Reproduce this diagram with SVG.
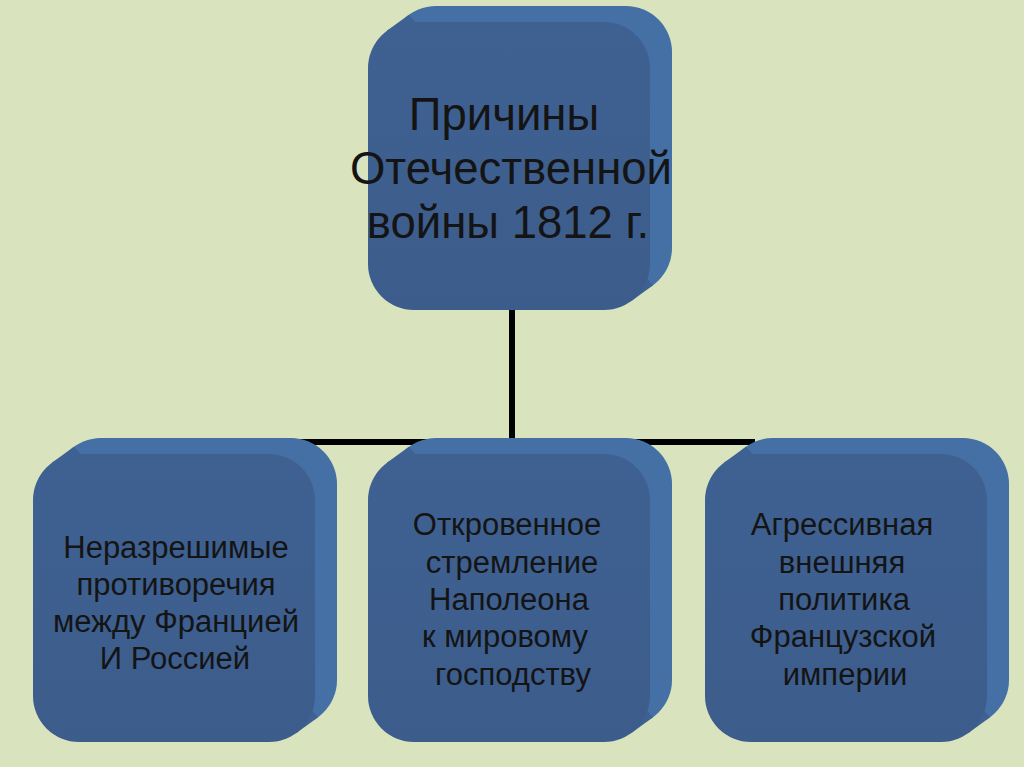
<svg xmlns="http://www.w3.org/2000/svg" width="1024" height="767" viewBox="0 0 1024 767">
<defs>
<linearGradient id="side" x1="0" y1="1" x2="1" y2="0">
<stop offset="0" stop-color="#365684"/>
<stop offset="0.6" stop-color="#3f6397"/>
<stop offset="1" stop-color="#4672a9"/>
</linearGradient>
<linearGradient id="face" x1="0" y1="0" x2="0" y2="1">
<stop offset="0" stop-color="#3f6191"/>
<stop offset="1" stop-color="#3c5d8c"/>
</linearGradient>
<g id="box">
<rect x="22" y="-16" width="282" height="288" rx="46" fill="#4470a6"/>
<polygon points="18.9,8.8 40.9,-7.2 285.1,263.2 263.1,279.2" fill="url(#side)"/>
<rect x="0" y="0" width="282" height="288" rx="46" fill="url(#face)"/>
</g>
</defs>
<style>
text{font-family:"Liberation Sans",Arial,sans-serif;fill:#141414;text-anchor:middle}
.t{font-size:45.5px}
.s{font-size:31px}
</style>
<rect width="1024" height="767" fill="#d9e4bf"/>
<g id="connectors" stroke="#000" stroke-width="6" fill="none">
<line x1="512" y1="300" x2="512" y2="442"/>
<line x1="300" y1="442" x2="755" y2="442"/>
</g>
<g id="root">
<use href="#box" x="368" y="22"/>
<text class="t" x="504" y="130">Причины</text>
<text class="t" x="511" y="184">Отечественной</text>
<text class="t" x="508" y="238">войны 1812 г.</text>
</g>
<g id="cause1">
<use href="#box" x="33" y="454"/>
<text class="s" x="176" y="558">Неразрешимые</text>
<text class="s" x="176" y="595">противоречия</text>
<text class="s" x="176" y="632">между Францией</text>
<text class="s" x="175" y="669">И Россией</text>
</g>
<g id="cause2">
<use href="#box" x="368" y="454"/>
<text class="s" x="507" y="535">Откровенное</text>
<text class="s" x="512" y="573">стремление</text>
<text class="s" x="509" y="610">Наполеона</text>
<text class="s" x="505" y="647">к мировому</text>
<text class="s" x="513" y="685">господству</text>
</g>
<g id="cause3">
<use href="#box" x="705" y="454"/>
<text class="s" x="842" y="535">Агрессивная</text>
<text class="s" x="842" y="573">внешняя</text>
<text class="s" x="844" y="610">политика</text>
<text class="s" x="843" y="647">Французской</text>
<text class="s" x="845" y="685">империи</text>
</g>
</svg>
